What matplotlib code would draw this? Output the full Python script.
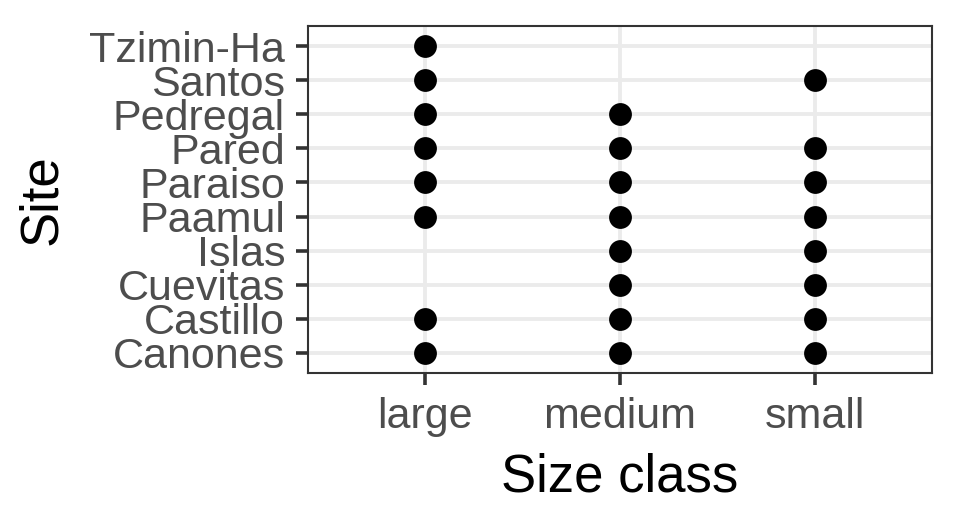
import matplotlib
import matplotlib.pyplot as plt

matplotlib.use('Agg')

plt.rcParams['font.family'] = ['Liberation Sans', 'DejaVu Sans']

sites = ['Canones', 'Castillo', 'Cuevitas', 'Islas', 'Paamul',
         'Paraiso', 'Pared', 'Pedregal', 'Santos', 'Tzimin-Ha']
size_classes = ['large', 'medium', 'small']

# which size classes were recorded at each site
large = ['Tzimin-Ha', 'Santos', 'Pedregal', 'Pared', 'Paraiso', 'Paamul', 'Castillo', 'Canones']
medium = ['Pedregal', 'Pared', 'Paraiso', 'Paamul', 'Islas', 'Cuevitas', 'Castillo', 'Canones']
small = ['Santos', 'Pared', 'Paraiso', 'Paamul', 'Islas', 'Cuevitas', 'Castillo', 'Canones']

obs = {'large': large, 'medium': medium, 'small': small}

fig = plt.figure(figsize=(9.6, 5.28), dpi=100)
ax = fig.add_axes([308/960, 1 - 373/528, 624/960, 347/528])

for i, sc in enumerate(size_classes):
    ys = [sites.index(s) for s in obs[sc]]
    ax.scatter([i] * len(ys), ys, s=270, color='black', zorder=3, linewidths=0)

ax.set_xlim(-0.6, len(size_classes) - 1 + 0.6)
ax.set_ylim(-0.6, len(sites) - 1 + 0.6)
ax.set_xticks(range(len(size_classes)))
ax.set_xticklabels(size_classes)
ax.set_yticks(range(len(sites)))
ax.set_yticklabels(sites)

ax.grid(True, color='#EBEBEB', linewidth=2.8, zorder=0)
ax.set_axisbelow(True)
for sp in ax.spines.values():
    sp.set_color('#333333')
    sp.set_linewidth(1.5)

ax.tick_params(axis='both', colors='#333333', length=8.5, width=2.6,
               labelsize=31, labelcolor='#4D4D4D')
ax.tick_params(axis='x', pad=9)
ax.tick_params(axis='y', pad=8)
ax.set_xlabel('Size class', fontsize=38, labelpad=11)
ax.set_ylabel('Site', fontsize=38, labelpad=16)

plt.savefig('out.png', dpi=100)
